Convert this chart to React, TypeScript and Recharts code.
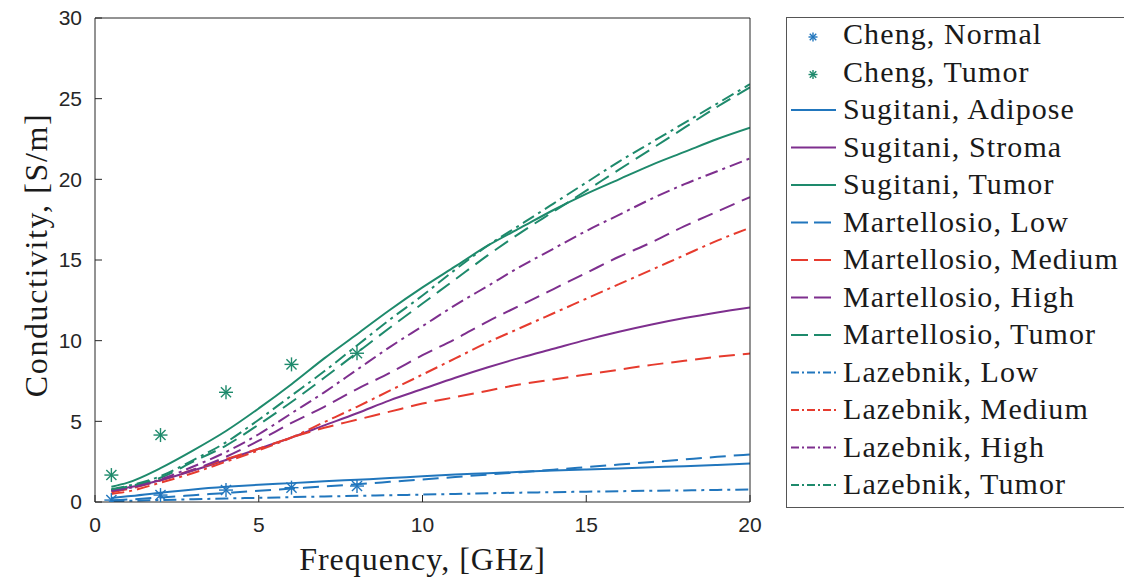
import React from 'react';
import { ComposedChart, Line, Scatter, XAxis, YAxis } from 'recharts';

// ---- data ----
const frequencies = [0.5, 1, 2, 3, 4, 5, 6, 7, 8, 9, 10, 11, 12, 13, 14, 15, 16, 17, 18, 19, 20];

const sugitaniAdipose = [0.25, 0.35, 0.58, 0.78, 0.94, 1.07, 1.17, 1.28, 1.38, 1.48, 1.6, 1.7, 1.78, 1.87, 1.95, 2.02, 2.08, 2.15, 2.22, 2.3, 2.38];
const sugitaniStroma = [0.75, 0.9, 1.35, 1.95, 2.6, 3.3, 4.0, 4.75, 5.5, 6.3, 7.0, 7.7, 8.35, 8.95, 9.5, 10.05, 10.55, 11.0, 11.4, 11.75, 12.06];
const sugitaniTumor = [0.95, 1.2, 2.1, 3.2, 4.4, 5.8, 7.3, 8.9, 10.4, 11.9, 13.3, 14.6, 15.9, 17.0, 18.1, 19.1, 20.0, 20.9, 21.7, 22.5, 23.2];
const martellosioLow = [0.1, 0.15, 0.28, 0.42, 0.56, 0.7, 0.83, 0.96, 1.1, 1.25, 1.4, 1.55, 1.7, 1.85, 2.0, 2.16, 2.32, 2.48, 2.64, 2.8, 2.95];
const martellosioMedium = [0.6, 0.8, 1.35, 2.0, 2.65, 3.3, 4.0, 4.6, 5.1, 5.6, 6.1, 6.5, 6.9, 7.3, 7.6, 7.9, 8.2, 8.5, 8.75, 9.0, 9.2];
const martellosioHigh = [0.7, 0.85, 1.35, 2.0, 2.8, 3.8, 4.9, 5.9, 7.0, 8.0, 9.1, 10.1, 11.2, 12.2, 13.2, 14.2, 15.2, 16.1, 17.1, 18.0, 18.9];
const martellosioTumor = [0.75, 0.95, 1.5, 2.5, 3.5, 4.8, 6.2, 7.7, 9.25, 10.8, 12.3, 13.8, 15.3, 16.7, 18.0, 19.3, 20.6, 21.9, 23.2, 24.5, 25.7];
const lazebnikLow = [0.05, 0.07, 0.12, 0.17, 0.22, 0.26, 0.3, 0.34, 0.38, 0.42, 0.46, 0.5, 0.54, 0.58, 0.61, 0.64, 0.67, 0.7, 0.72, 0.75, 0.77];
const lazebnikMedium = [0.5, 0.65, 1.2, 1.8, 2.5, 3.2, 4.0, 4.95, 5.9, 6.9, 7.9, 8.9, 9.9, 10.8, 11.7, 12.6, 13.5, 14.4, 15.3, 16.2, 17.0];
const lazebnikHigh = [0.7, 0.85, 1.4, 2.2, 3.1, 4.2, 5.5, 6.8, 8.2, 9.6, 10.9, 12.2, 13.4, 14.6, 15.7, 16.8, 17.8, 18.8, 19.7, 20.5, 21.3];
const lazebnikTumor = [0.8, 1.0, 1.6, 2.6, 3.7, 5.1, 6.6, 8.1, 9.7, 11.3, 12.8, 14.4, 15.9, 17.2, 18.5, 19.8, 21.1, 22.3, 23.5, 24.7, 25.9];

const chengFrequencies = [0.5, 2, 4, 6, 8];
const chengNormal = [0.12, 0.43, 0.74, 0.89, 0.99];
const chengTumor = [1.67, 4.15, 6.8, 8.53, 9.22];

const xTicks = [0, 5, 10, 15, 20];
const yTicks = [0, 5, 10, 15, 20, 25, 30];

// ---- styles ----
const BLUE = '#2176BD';
const RED = '#E63B2E';
const PURPLE = '#7E2F8E';
const GREEN = '#1E8A6C';
const AXIS = '#262626';

const DASH = '16 8';
const DASHDOT = '13 5 3 5';
const LEG_DASH = '17 6';
const LEG_DASHDOT = '8 3 2 3';

type LineSeries = { key: string; name: string; values: number[]; color: string; dash?: string; legendDash?: string };

const lineSeries: LineSeries[] = [
  { key: 'sugitaniAdipose', name: 'Sugitani, Adipose', values: sugitaniAdipose, color: BLUE },
  { key: 'sugitaniStroma', name: 'Sugitani, Stroma', values: sugitaniStroma, color: PURPLE },
  { key: 'sugitaniTumor', name: 'Sugitani, Tumor', values: sugitaniTumor, color: GREEN },
  { key: 'martellosioLow', name: 'Martellosio, Low', values: martellosioLow, color: BLUE, dash: DASH, legendDash: LEG_DASH },
  { key: 'martellosioMedium', name: 'Martellosio, Medium', values: martellosioMedium, color: RED, dash: DASH, legendDash: LEG_DASH },
  { key: 'martellosioHigh', name: 'Martellosio, High', values: martellosioHigh, color: PURPLE, dash: DASH, legendDash: LEG_DASH },
  { key: 'martellosioTumor', name: 'Martellosio, Tumor', values: martellosioTumor, color: GREEN, dash: DASH, legendDash: LEG_DASH },
  { key: 'lazebnikLow', name: 'Lazebnik, Low', values: lazebnikLow, color: BLUE, dash: DASHDOT, legendDash: LEG_DASHDOT },
  { key: 'lazebnikMedium', name: 'Lazebnik, Medium', values: lazebnikMedium, color: RED, dash: DASHDOT, legendDash: LEG_DASHDOT },
  { key: 'lazebnikHigh', name: 'Lazebnik, High', values: lazebnikHigh, color: PURPLE, dash: DASHDOT, legendDash: LEG_DASHDOT },
  { key: 'lazebnikTumor', name: 'Lazebnik, Tumor', values: lazebnikTumor, color: GREEN, dash: DASHDOT, legendDash: LEG_DASHDOT },
];

const scatterSeries = [
  { key: 'chengNormal', name: 'Cheng, Normal', values: chengNormal, color: BLUE },
  { key: 'chengTumor', name: 'Cheng, Tumor', values: chengTumor, color: GREEN },
];

const rows = frequencies.map((f, i) => {
  const row: Record<string, number> = { f };
  lineSeries.forEach((s) => {
    row[s.key] = s.values[i];
  });
  return row;
});

const scatterData = scatterSeries.map((s) => chengFrequencies.map((f, i) => ({ f, v: s.values[i] })));

function Star(props: any) {
  const { cx, cy, fill, r = 7 } = props;
  if (cx == null || cy == null) return null;
  const d = r * 0.72;
  return (
    <g stroke={fill} strokeWidth={1.4} fill="none">
      <line x1={cx - r} y1={cy} x2={cx + r} y2={cy} />
      <line x1={cx} y1={cy - r} x2={cx} y2={cy + r} />
      <line x1={cx - d} y1={cy - d} x2={cx + d} y2={cy + d} />
      <line x1={cx - d} y1={cy + d} x2={cx + d} y2={cy - d} />
    </g>
  );
}

const SERIF = '"Liberation Serif", "Times New Roman", serif';
const SANS = '"Liberation Sans", Arial, sans-serif';

function XLabel(props: any) {
  const vb = props.viewBox || { x: 95, y: 502, width: 655, height: 40 };
  const cx = vb.x + vb.width / 2;
  return (
    <text x={cx} y={vb.y + 68} textAnchor="middle" fontFamily={SERIF} fontSize={32} letterSpacing={1} fill="#1a1a1a">
      Frequency, [GHz]
    </text>
  );
}

function YLabel(props: any) {
  const vb = props.viewBox || { x: 35, y: 18, width: 60, height: 484 };
  const cy = vb.y + vb.height / 2 - 5;
  const x0 = vb.x + vb.width - 48;
  return (
    <text x={x0} y={cy} transform={`rotate(-90, ${x0}, ${cy})`} textAnchor="middle" fontFamily={SERIF} fontSize={32} letterSpacing={1.6} fill="#1a1a1a">
      Conductivity, [S/m]
    </text>
  );
}

function LegendBox() {
  const items = [
    ...scatterSeries.map((s) => ({ name: s.name, color: s.color, kind: 'star' as const, dash: undefined as string | undefined })),
    ...lineSeries.map((s) => ({ name: s.name, color: s.color, kind: 'line' as const, dash: s.legendDash })),
  ];
  return (
    <svg width={338} height={578} style={{ position: 'absolute', left: 786, top: 0 }}>
      <rect x={0.5} y={17.5} width={400} height={490} fill="#fff" stroke="#555" strokeWidth={1} />
      {items.map((it, i) => {
        const base = 44 + 37.5 * i;
        return (
          <g key={it.name}>
            {it.kind === 'star' ? (
              <Star cx={27} cy={base - 7} r={4.5} fill={it.color} />
            ) : (
              <line x1={5} x2={50} y1={base - 9} y2={base - 9} stroke={it.color} strokeWidth={2} strokeDasharray={it.dash} />
            )}
            <text x={57} y={base} fontFamily={SERIF} fontSize={30} letterSpacing={1.1} fill="#1a1a1a">
              {it.name}
            </text>
          </g>
        );
      })}
    </svg>
  );
}

export default function App() {
  const tickStyle = { fill: AXIS, fontSize: 21, fontFamily: SANS };
  return (
    <div style={{ position: 'absolute', left: 0, top: 0, width: 1124, height: 578, background: '#fff' }}>
      <ComposedChart width={1124} height={578} data={rows} margin={{ top: 17, right: 373, bottom: 36, left: 35 }}>
        <XAxis
          dataKey="f"
          type="number"
          domain={[0, 20]}
          ticks={xTicks}
          interval={0}
          allowDataOverflow
          height={40}
          tickSize={-7}
          tickMargin={22}
          axisLine={{ stroke: AXIS, strokeWidth: 1 }}
          tickLine={{ stroke: AXIS, strokeWidth: 1 }}
          tick={tickStyle}
          label={<XLabel />}
        />
        <XAxis
          xAxisId="top"
          orientation="top"
          dataKey="f"
          type="number"
          domain={[0, 20]}
          ticks={xTicks}
          interval={0}
          allowDataOverflow
          height={1}
          tickSize={-7}
          tick={false}
          axisLine={{ stroke: AXIS, strokeWidth: 1 }}
          tickLine={{ stroke: AXIS, strokeWidth: 1 }}
        />
        <YAxis
          type="number"
          domain={[0, 30]}
          ticks={yTicks}
          interval={0}
          allowDataOverflow
          width={60}
          tickSize={-7}
          tickMargin={20}
          axisLine={{ stroke: AXIS, strokeWidth: 1 }}
          tickLine={{ stroke: AXIS, strokeWidth: 1 }}
          tick={tickStyle}
          label={<YLabel />}
        />
        <YAxis
          yAxisId="right"
          orientation="right"
          type="number"
          domain={[0, 30]}
          ticks={yTicks}
          interval={0}
          allowDataOverflow
          width={1}
          tickSize={-7}
          tick={false}
          axisLine={{ stroke: AXIS, strokeWidth: 1 }}
          tickLine={{ stroke: AXIS, strokeWidth: 1 }}
        />
        {lineSeries.map((s) => (
          <Line
            key={s.key}
            dataKey={s.key}
            name={s.name}
            type="monotone"
            stroke={s.color}
            strokeWidth={2}
            strokeDasharray={s.dash}
            dot={false}
            activeDot={false}
            isAnimationActive={false}
          />
        ))}
        {scatterSeries.map((s, i) => (
          <Scatter
            key={s.key}
            name={s.name}
            data={scatterData[i]}
            dataKey="v"
            fill={s.color}
            shape={<Star r={7} />}
            isAnimationActive={false}
          />
        ))}
      </ComposedChart>
      <LegendBox />
    </div>
  );
}
